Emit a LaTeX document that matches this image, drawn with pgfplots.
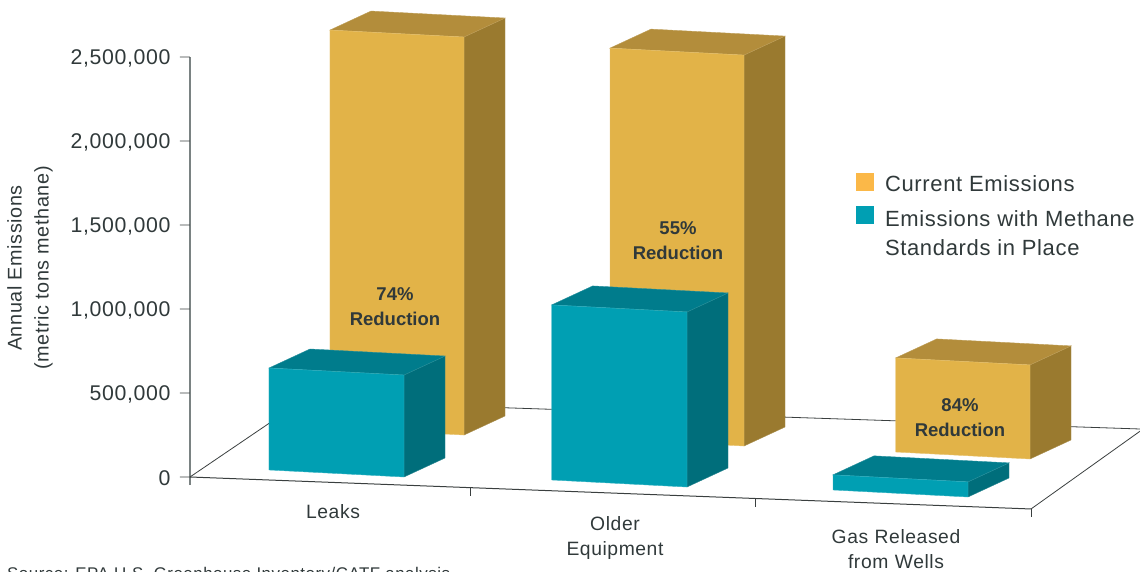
\documentclass[border=0pt]{standalone}
\usepackage{fontspec}
\usepackage{pgfplots}
\pgfplotsset{compat=1.18}
\setmainfont[LetterSpace=3]{Liberation Sans}
\definecolor{goldfront}{HTML}{E2B348}
\definecolor{goldtop}{HTML}{B38D3B}
\definecolor{goldside}{HTML}{9A7A2F}
\definecolor{goldkey}{HTML}{FBB848}
\definecolor{tealfront}{HTML}{009FB3}
\definecolor{tealtop}{HTML}{007C8C}
\definecolor{tealside}{HTML}{006E7B}
\definecolor{inktext}{HTML}{30393A}
\definecolor{axisgray}{HTML}{7A8282}
\definecolor{floorline}{HTML}{3A3F3F}

% One box: #1 and #2 span the width, #3 and #4 the depth, #5 is the emissions
% in thousand metric tons; #6, #7, #8 colour the front, top and side faces.
\newcommand{\emissionbox}[8]{%
  \addplot3[forget plot,fill=#8,draw=#8!85!white,line width=0.4pt] coordinates
    {(#2,#3,0) (#2,#4,0) (#2,#4,#5) (#2,#3,#5)} --cycle;
  \addplot3[forget plot,fill=#7,draw=#7!85!white,line width=0.4pt] coordinates
    {(#1,#3,#5) (#2,#3,#5) (#2,#4,#5) (#1,#4,#5)} --cycle;
  \addplot3[forget plot,fill=#6,draw=#6!80!white,line width=0.4pt] coordinates
    {(#1,#3,0) (#2,#3,0) (#2,#3,#5) (#1,#3,#5)} --cycle;
}
% A level tick to the left of the vertical axis
\newcommand{\leveltick}[1]{%
  \addplot3[forget plot,floorline,line width=0.8pt] coordinates
    {(0,0,#1) (-10,0,#1-3.1)};
}

\begin{document}
\begin{tikzpicture}[x=1pt,y=1pt]
\path[use as bounding box] (-190,-95) rectangle (950,477);
\clip (-190,-95) rectangle (950,477);
\begin{axis}[
  anchor=origin, at={(0pt,0pt)},
  disabledatascaling,
  x={(1pt,-0.052pt)}, y={(1pt,0.4634pt)}, z={(0pt,0.168pt)},
  xmin=0, xmax=900, ymin=0, ymax=200, zmin=-48, zmax=2500,
  clip=false,
  axis x line=none, axis y line=none, axis z line*=left,
  axis line style={axisgray,line width=1.3pt},
  xtick=\empty, ytick=\empty,
  ztick={0,500,1000,1500,2000,2500},
  zticklabels={0,{500,000},{1,000,000},{1,500,000},{2,000,000},{2,500,000}},
  major tick length=0pt,
  tick style={draw=none},
  z tick label style={anchor=east,xshift=-16pt,yshift=-1pt},
  every tick label/.append style={font=\fontsize{21.3}{24}\selectfont,text=inktext},
  legend cell align=left,
  legend style={draw=none,fill=none,at={(axis cs:666,0,2014)},anchor=north west,
    font=\fontsize{22}{29}\selectfont,text=inktext,
    row sep=9pt,inner sep=0pt,outer sep=0pt},
  legend image code/.code={\path[#1,draw=none] (0pt,-7pt) rectangle (18pt,11pt);
    \path[draw=none,fill=none] (0pt,0pt) -- (27pt,0pt);},
]
% Floor outline and category ticks
\addplot3[forget plot,floorline,line width=0.8pt] coordinates
  {(0,0,0) (-46.8,158.8,0) (763.9,189.1,0) (818.2,22.8,0)};
\addplot3[forget plot,floorline,line width=1pt] coordinates {(0,0,0) (818.2,22.8,0)};
\addplot3[forget plot,floorline,line width=0.8pt] coordinates {(273.1,7.6,0) (273.1,7.6,-48)};
\addplot3[forget plot,floorline,line width=0.8pt] coordinates {(549.7,15.3,0) (549.7,15.3,-48)};
\addplot3[forget plot,floorline,line width=0.8pt] coordinates {(818.2,22.8,0) (818.2,22.8,-48)};
\leveltick{0}\leveltick{500}\leveltick{1000}\leveltick{1500}\leveltick{2000}\leveltick{2500}

% Current emissions
\emissionbox{30.9}{164.9}{109.1}{150.1}{2369}{goldfront}{goldtop}{goldside}
\emissionbox{304}{438}{116}{157}{2327}{goldfront}{goldtop}{goldside}
\emissionbox{586}{720.3}{119.7}{160.7}{560}{goldfront}{goldtop}{goldside}
% Emissions with methane standards in place
\emissionbox{57.4}{192.4}{21.6}{62.6}{607}{tealfront}{tealtop}{tealside}
\emissionbox{331}{466.3}{30.7}{71.7}{1042}{tealfront}{tealtop}{tealside}
\emissionbox{603.3}{738.3}{39.7}{80.7}{90}{tealfront}{tealtop}{tealside}

\addlegendimage{fill=goldkey}
\addlegendentry{Current Emissions}
\addlegendimage{fill=tealfront}
\addlegendentry{\begin{tabular}[t]{@{}l@{}}Emissions with Methane\\Standards in Place\end{tabular}}
\end{axis}

% Node positions below are in points from the foot of the vertical axis
\begin{scope}[every node/.style={text=inktext,inner sep=0pt,align=center,
    font=\fontsize{19.3}{25}\selectfont}]
\node[anchor=base] at (143,-42) {Leaks};
\node[anchor=base,text width=150pt] at (425,-54) {Older\\Equipment};
\node[anchor=base,text width=200pt] at (706,-67) {Gas Released\\from Wells};
\node[rotate=90,font=\fontsize{19.8}{27}\selectfont] at (-160,209) {Annual Emissions\\(metric tons methane)};
\node[anchor=base west,font=\fontsize{16.9}{20}\selectfont] at (-183,-103) {Source: EPA U.S. Greenhouse Inventory/CATF analysis};
\end{scope}
\begin{scope}[every node/.style={text=inktext,inner sep=0pt,align=center,
    font=\fontsize{18.5}{25}\bfseries\selectfont\addfontfeature{LetterSpace=0}}]
\node at (205,170) {74\%\\Reduction};
\node at (488,236) {55\%\\Reduction};
\node at (770,59) {84\%\\Reduction};
\end{scope}
\end{tikzpicture}
\end{document}
